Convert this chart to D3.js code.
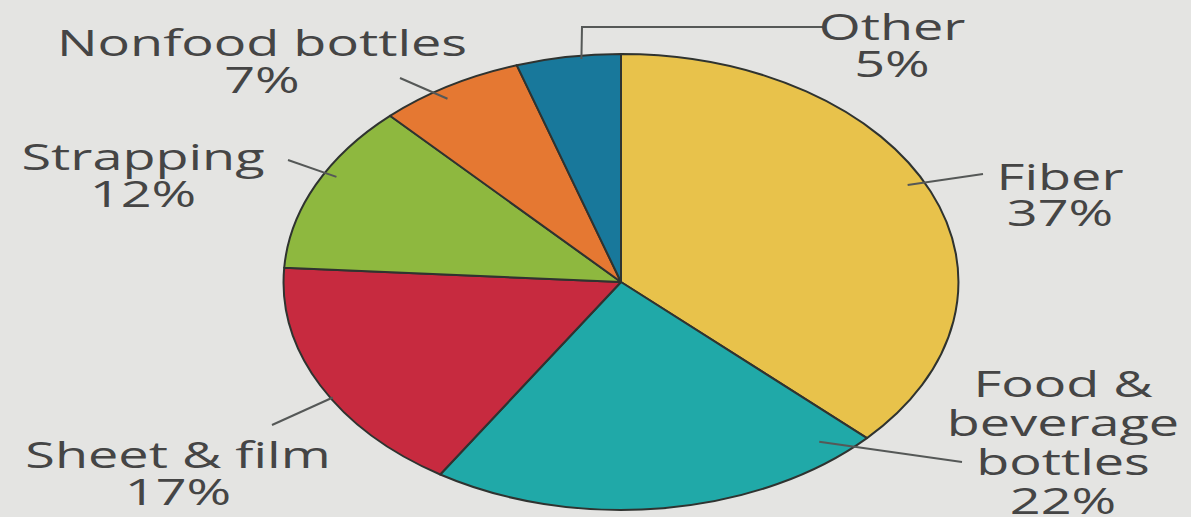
<!DOCTYPE html>
<html>
<head>
<meta charset="utf-8">
<script src="https://cdn.jsdelivr.net/npm/d3@7"></script>
<style>
  html, body { margin: 0; padding: 0; background: #e4e4e2; }
  svg { display: block; }
  text { font-family: "Open Sans", "DejaVu Sans", sans-serif; fill: #454545; }
</style>
</head>
<body>
<svg id="chart" width="1191" height="517"></svg>
<script>
// PET end-use shares, clockwise from 12 o'clock
const categories = ["Fiber", "Food & beverage bottles", "Sheet & film", "Strapping", "Nonfood bottles", "Other"];
const shares = [37, 22, 17, 12, 7, 5];
const colors = ["#e8c24b", "#20a9a8", "#c72a3f", "#8eb83f", "#e57832", "#18789b"];

// label text lines per slice
const labelLines = [
  ["Fiber", "37%"],
  ["Food &", "beverage", "bottles", "22%"],
  ["Sheet & film", "17%"],
  ["Strapping", "12%"],
  ["Nonfood bottles", "7%"],
  ["Other", "5%"]
];

// layout: label centre x, first baseline y, line gap
const labelPos = [
  { x: 1060, y: 190, gap: 36 },
  { x: 1063, y: 397, gap: 39 },
  { x: 178, y: 468, gap: 37 },
  { x: 143, y: 170, gap: 37 },
  { x: 262, y: 56, gap: 37 },
  { x: 892, y: 40, gap: 37 }
];
// the whole drawing is widened horizontally; labels follow the same stretch
const stretch = 1.48;

// leader: where it starts inside the slice (fraction of slice angle, radius factor) and where it ends
const leaders = [
  { t: 0.476, r: 0.95, end: [[983, 174]] },
  { t: 0.086, r: 0.914, end: [[962, 462]] },
  { t: 0.44, r: 0.993, end: [[272, 425]] },
  { t: 0.58, r: 0.961, end: [[288, 160]] },
  { t: 0.42, r: 0.954, end: [[400, 78]] },
  { t: 0.62, r: 0.985, end: [[582, 27], [825, 27]] }
];

const svg = d3.select("#chart");
const cx = 621, cy = 282, ry = 228, rx = ry * stretch;

const pie = d3.pie().sort(null).value(d => d)(shares);
const arc = d3.arc().innerRadius(0).outerRadius(ry);

const g = svg.append("g")
  .attr("transform", `translate(${cx},${cy}) scale(${stretch},1)`);

g.selectAll("path.slice")
  .data(pie)
  .join("path")
  .attr("class", "slice")
  .attr("d", arc)
  .attr("fill", (d, i) => colors[i])
  .attr("stroke", "#2f3330")
  .attr("stroke-width", 2)
  .attr("stroke-linejoin", "round")
  .attr("vector-effect", "non-scaling-stroke");

// point on the elliptical pie at angle a (radians, clockwise from top) and radius factor k
function pt(a, k) {
  return [cx + rx * k * Math.sin(a), cy - ry * k * Math.cos(a)];
}

const line = d3.line();
pie.forEach((d, i) => {
  const L = leaders[i];
  const a = d.startAngle + L.t * (d.endAngle - d.startAngle);
  svg.append("path")
    .attr("d", line([pt(a, L.r), ...L.end]))
    .attr("fill", "none")
    .attr("stroke", "#555857")
    .attr("stroke-width", 2);
});

labelLines.forEach((lines, i) => {
  const p = labelPos[i];
  const t = svg.append("text")
    .attr("transform", `translate(${p.x},0) scale(${stretch},1)`)
    .attr("text-anchor", "middle")
    .attr("font-size", 36.5);
  lines.forEach((s, j) => {
    t.append("tspan").attr("x", 0).attr("y", p.y + j * p.gap).text(s);
  });
});
</script>
</body>
</html>
